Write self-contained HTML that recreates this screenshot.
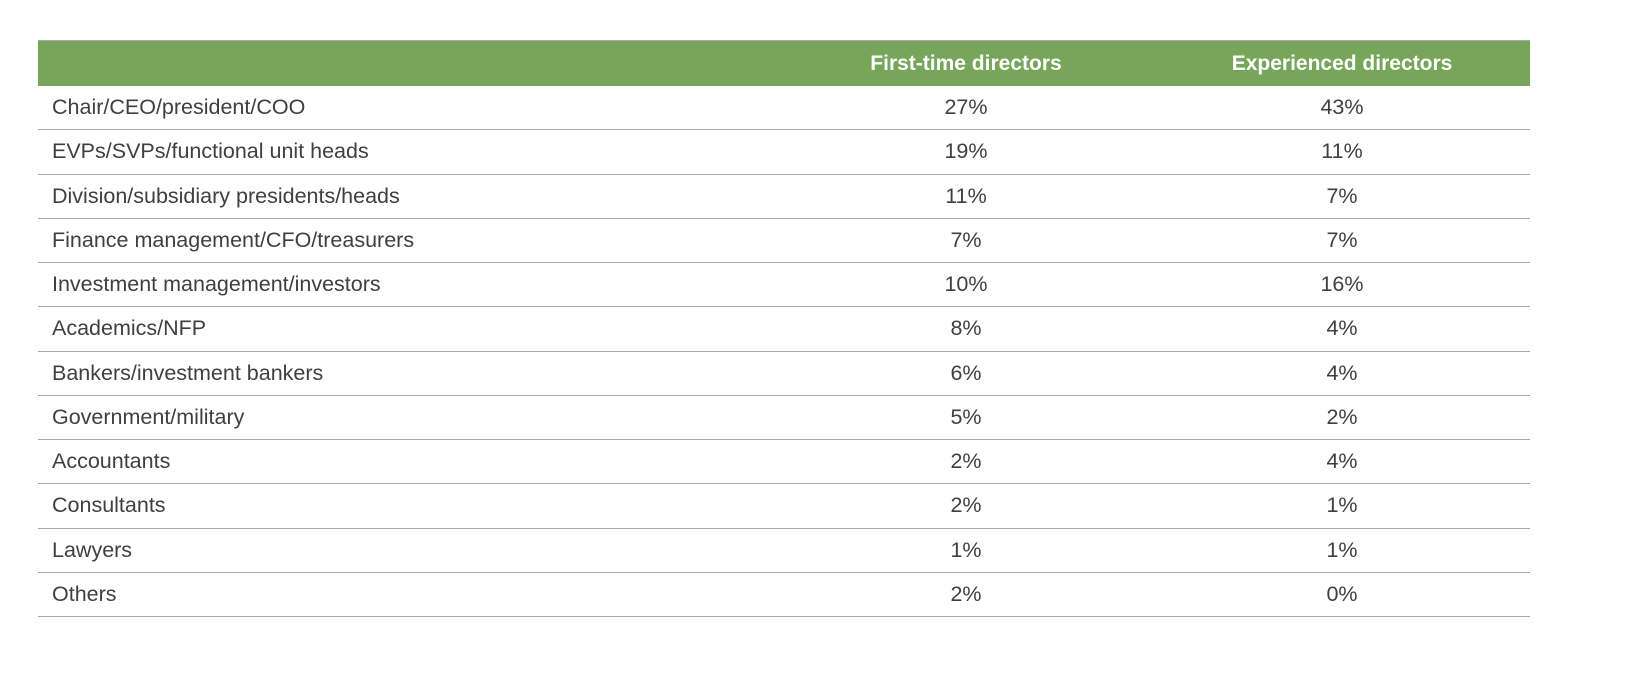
<!DOCTYPE html>
<html><head><meta charset="utf-8"><style>
body{margin:0;width:1640px;height:686px;background:#fff;font-family:"Liberation Sans",sans-serif;overflow:hidden}
#t{position:absolute;left:38px;top:40px;width:1492px}
.hd{position:absolute;left:0;top:0;width:1492px;height:46px;background:#77a55a;border-top:1px solid #a8a8a8;box-sizing:border-box}
.hc{position:absolute;top:11px;color:#fff;font-weight:bold;font-size:21px;width:400px;text-align:center}
.row{position:absolute;left:0;width:1492px;height:44.25px;border-bottom:1.5px solid #a9a9a9;box-sizing:border-box;color:#3f3f3f;font-size:21.5px}
.lab{position:absolute;left:14px;top:9px}
.v{position:absolute;top:9px;width:200px;text-align:center}
</style></head><body>
<div id="t">
<div class="hd">
<div class="hc" style="left:728px">First-time directors</div>
<div class="hc" style="left:1104px">Experienced directors</div>
</div>
</div>
<script>
const categories=["Chair/CEO/president/COO","EVPs/SVPs/functional unit heads","Division/subsidiary presidents/heads","Finance management/CFO/treasurers","Investment management/investors","Academics/NFP","Bankers/investment bankers","Government/military","Accountants","Consultants","Lawyers","Others"];
const firstTime=[27,19,11,7,10,8,6,5,2,2,1,2];
const experienced=[43,11,7,7,16,4,4,2,4,1,1,0];
const t=document.getElementById('t');
categories.forEach((c,i)=>{
const r=document.createElement('div');r.className='row';r.style.top=(46+i*44.25)+'px';


const l=document.createElement('div');l.className='lab';l.textContent=c;


const a=document.createElement('div');a.className='v';a.style.left='828px';a.textContent=firstTime[i]+'%';


const b=document.createElement('div');b.className='v';b.style.left='1204px';b.textContent=experienced[i]+'%';


r.append(l,a,b);t.appendChild(r);
});
</script>
</body></html>
